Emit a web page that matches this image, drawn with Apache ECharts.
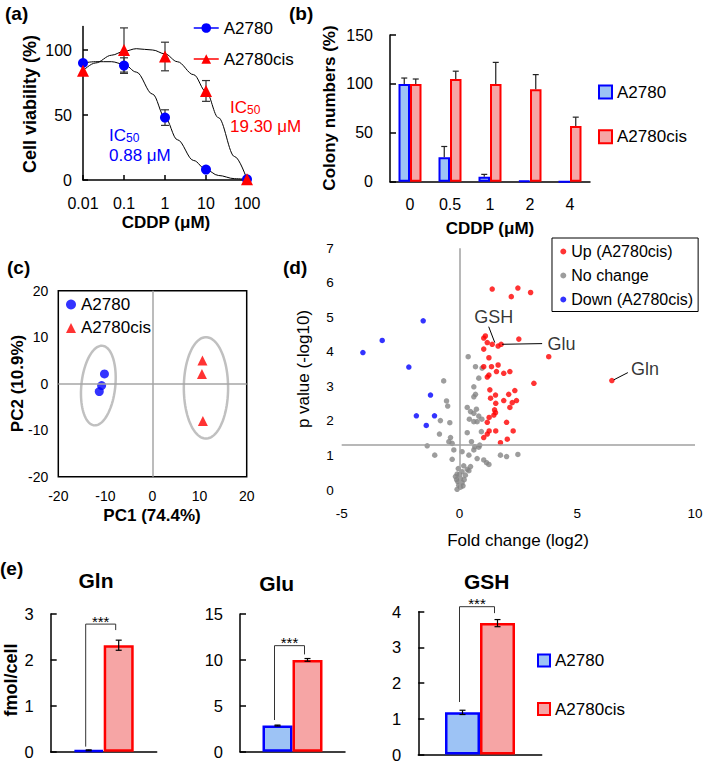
<!DOCTYPE html>
<html><head><meta charset="utf-8">
<script src="https://cdn.jsdelivr.net/npm/echarts@6/dist/echarts.min.js"></script>
<style>html,body{margin:0;padding:0;background:#fff}#c{width:709px;height:763px}</style>
</head><body><div id="c"></div>
<script>
// ---------- (a) cell viability ----------
const doseA = [0.01, 0.1, 1, 10, 100];
const viabA2780 = [90, 88, 48, 8, 0.5];
const viabA2780Err = [0, 6, 6, 0, 0];
const viabCis = [84, 100, 95, 68.5, 0.5];
const viabCisErr = [0, 17, 11, 8, 0];
const fitDose = [0.01, 0.02, 0.05, 0.1, 0.2, 0.5, 1, 2, 5, 10, 20, 50, 100];
const fitA2780 = [90, 91, 91, 89, 83, 66, 48, 31, 15, 8, 3.5, 1, 0.5];
const fitCis = [84, 90, 96, 99, 101, 100, 97, 91, 81, 68, 48, 18, 0.5];
const yTicksA = [0, 50, 100];

// ---------- (b) colony numbers ----------
const doseB = ['0', '0.5', '1', '2', '4'];
const colA2780 = [100, 25, 5, 0.7, 0];
const colA2780Err = [6, 11, 2.5, 0, 0];
const colCis = [100, 105, 100, 94.5, 57];
const colCisErr = [5, 8, 22, 15, 9];

// ---------- (c) PCA ----------
const pcaA2780 = [[-10.2, 2.1], [-10.8, -0.4], [-11.3, -1.7]];
const pcaCis = [[10.6, 5.0], [10.5, 2.1], [10.7, -8.0]];
// centre x, centre y, radius x, radius y, tilt (deg)
const pcaEllipses = [[-11.5, -0.4, 3.6, 8.6, 6], [11.35, -0.9, 4.7, 10.9, 0]];

// ---------- (d) volcano ----------
const volUp = [
  [1.39,5.82],[2.48,5.85],[2.2,5.60],[3.02,5.72],
  [1.10,4.46],[1.03,4.40],[1.18,4.27],[1.39,4.22],[1.64,4.17],[1.77,4.22],[2.52,4.37],[1.03,4.08],[1.25,3.83],[3.79,3.86],[6.47,3.17],
  [1.03,3.57],[1.36,3.57],[1.64,3.62],[1.25,3.33],[1.18,3.27],[1.57,3.43],[1.88,3.38],[2.14,3.43],[3.16,3.09],
  [1.29,2.90],[1.53,2.75],[1.32,2.66],[2.09,2.77],[2.35,2.88],[1.88,2.59],[2.42,2.59],[2.24,2.53],[1.54,2.51],[2.14,2.39],
  [1.49,2.32],[1.53,2.24],[1.46,2.17],[1.26,2.10],[1.18,1.96],[2.0,1.96],[2.28,1.71],[1.54,1.71],[1.26,1.71],[1.18,1.62],
  [1.03,1.52],[2.03,1.47],[1.74,1.37]
];
const volNoChange = [
  [0.37,3.86],[0.68,3.57],[0.96,3.53],[-0.67,3.16],[0.82,3.24],[0.61,2.99],[0.68,2.77],[0.61,2.70],[-0.55,2.58],[-0.50,2.43],
  [0.33,2.39],[0.47,2.27],[0.72,2.34],[0.61,2.22],[0.82,2.14],[0.95,2.05],[0.42,2.05],[-0.81,2.01],[-0.41,1.95],[0.61,1.98],
  [0.75,1.98],[0.93,1.69],[0.33,1.66],[-0.85,1.62],[-0.38,1.52],[-0.45,1.40],[-0.31,1.35],[0.51,1.40],[0.61,1.16],[0.82,1.24],
  [0.86,1.30],[0.65,1.25],[-1.37,1.28],[-0.24,1.16],[0.11,1.11],[1.74,1.01],[2.0,0.97],[2.48,1.03],[-1.05,1.01],[-0.31,0.89],
  [0.40,1.01],[0.75,0.91],[1.03,0.87],[1.15,0.79],[1.25,0.74],[0.18,0.70],[0.33,0.60],[0.47,0.68],[0.40,0.56],[0.11,0.53],
  [-0.1,0.46],[0.25,0.43],[-0.17,0.39],[0.04,0.34],[-0.07,0.24],[0.11,0.21],[-0.03,0.14],[0.04,0.08],[-0.1,0.02],
  [-0.05,0.62],[0.2,0.3],[0.15,0.12],[-0.12,0.3],[0.0,0.45]
];
const volDown = [[-1.54,4.90],[-3.28,4.33],[-4.1,3.98],[-2.15,3.56],[-1.23,2.75],[-1.83,2.15],[-1.06,2.15],[-1.41,1.87]];
const pThreshold = 1.3;
const annotNames = ['GSH', 'Glu', 'Gln'];

// ---------- (e) metabolites ----------
const metabolites = ['Gln', 'Glu', 'GSH'];
const metA2780 = [0.03, 2.85, 1.18];
const metA2780Err = [0.01, 0.05, 0.06];
const metCis = [2.32, 10.0, 3.68];
const metCisErr = [0.11, 0.15, 0.1];
const metAxisMax = [3, 15, 4];
const metAxisStep = [1, 5, 1];

// ================= drawing =================
const FONT = '"Liberation Sans", Arial, Helvetica, sans-serif';
const BLUE = '#0000ff', RED = '#ff0000', BLUEF = '#9dc3f5', REDF = '#f6a5a5', GRAY = '#858585';

function T(text, x, y, o) {
  o = o || {};
  return {type: 'text', x: x, y: y, rotation: o.rot || 0, silent: true, z: 100,
    style: {text: text, fill: o.color || '#000',
      font: (o.weight || 'normal') + ' ' + (o.size || 17) + 'px ' + FONT,
      align: o.align || 'center', verticalAlign: 'middle', rich: o.rich}};
}
function errBar(offset, cap, upOnly, color) {
  return function (params, api) {
    const x = api.value(0), v = api.value(1), e = api.value(2);
    if (!e) return null;
    const t = api.coord([x, v + e]), b = api.coord([x, upOnly ? v : v - e]);
    const cx = t[0] + offset;
    const st = {stroke: color || '#222', lineWidth: 1.2};
    const ch = [
      {type: 'line', shape: {x1: cx, y1: t[1], x2: cx, y2: b[1]}, style: st},
      {type: 'line', shape: {x1: cx - cap, y1: t[1], x2: cx + cap, y2: t[1]}, style: st}
    ];
    if (!upOnly) ch.push({type: 'line', shape: {x1: cx - cap, y1: b[1], x2: cx + cap, y2: b[1]}, style: st});
    return {type: 'group', children: ch};
  };
}
function ellipseRender(params, api) {
  const c = api.coord([api.value(0), api.value(1)]);
  const rx = api.size([api.value(2), 0])[0], ry = api.size([0, api.value(3)])[1];
  const a = api.value(4) * Math.PI / 180, pts = [];
  for (let k = 0; k < 90; k++) {
    const t = k / 90 * 2 * Math.PI, ex = rx * Math.cos(t), ey = ry * Math.sin(t);
    pts.push([c[0] + ex * Math.cos(a) - ey * Math.sin(a), c[1] + ex * Math.sin(a) + ey * Math.cos(a)]);
  }
  return {type: 'polygon', shape: {points: pts}, style: {fill: 'none', stroke: '#c0c0c0', lineWidth: 2.5}};
}
function bracketRender(bw) {
  return function (params, api) {
    const top = api.coord([0, api.value(2)]);
    const yl = api.coord([0, api.value(1)])[1], yr = api.coord([0, api.value(3)])[1];
    const xl = top[0] - bw / 2 - 3, xr = top[0] + bw / 2 - 3;
    return {type: 'group', children: [
      {type: 'polyline', shape: {points: [[xl, yl], [xl, top[1]], [xr, top[1]], [xr, yr]]}, style: {fill: 'none', stroke: '#333', lineWidth: 1}},
      {type: 'text', x: (xl + xr) / 2, y: top[1] - 3, style: {text: '***', font: 'normal 15px ' + FONT, fill: '#000', align: 'center', verticalAlign: 'middle'}}
    ]};
  };
}
// bracket values [cat, leftBottom, top, rightBottom] in data units
const brackets = [[0, 0.11, 2.78, 2.65], [0, 3.45, 11.55, 10.6], [0, 1.47, 4.14, 3.96]];
const metBarW = [30, 30, 35];

const axisLineBlk = {show: true, lineStyle: {color: '#000', width: 1.5}};
const lbl = (size, margin) => ({fontSize: size, color: '#000', fontFamily: FONT, margin: margin});

const grids = [
  {left: 83, top: 26.6, width: 164, height: 153.4},
  {left: 390, top: 35, width: 200, height: 146.7},
  {left: 58.3, top: 290.7, width: 188.4, height: 186, show: true, borderColor: '#000', borderWidth: 1.5},
  {left: 341.7, top: 248.3, width: 353.3, height: 241.7},
  {left: 50.7, top: 614, width: 106, height: 137.7},
  {left: 240, top: 614, width: 105, height: 137.7},
  {left: 418.3, top: 611.7, width: 123.4, height: 145}
];
const xAxes = [
  {type: 'log', gridIndex: 0, min: 0.01, max: 100, logBase: 10, axisLine: axisLineBlk,
   axisTick: {inside: true, length: 5, lineStyle: {color: '#000', width: 1.5}},
   axisLabel: Object.assign(lbl(16, 15), {formatter: v => String(+(+v).toPrecision(3))}), splitLine: {show: false}},
  {type: 'category', gridIndex: 1, data: doseB, axisLine: axisLineBlk, axisTick: {show: false}, axisLabel: lbl(16, 15)},
  {type: 'value', gridIndex: 2, min: -20, max: 20, interval: 10, axisLine: {show: false}, axisTick: {show: false}, splitLine: {show: false}, axisLabel: lbl(14, 12)},
  {type: 'value', gridIndex: 3, min: -5, max: 10, interval: 5, axisLine: {show: false}, axisTick: {show: false}, splitLine: {show: false}, axisLabel: lbl(13.5, 16)}
];
const yAxes = [
  {type: 'value', gridIndex: 0, min: 0, max: 118, axisLine: axisLineBlk,
   axisTick: {show: true, inside: true, length: 5, customValues: yTicksA, lineStyle: {color: '#000', width: 1.5}},
   axisLabel: Object.assign(lbl(16, 11), {customValues: yTicksA}), splitLine: {show: false}},
  {type: 'value', gridIndex: 1, min: 0, max: 150, interval: 50, axisLine: axisLineBlk,
   axisTick: {show: true, inside: true, length: 6, lineStyle: {color: '#000', width: 1.5}}, axisLabel: lbl(16, 17), splitLine: {show: false}},
  {type: 'value', gridIndex: 2, min: -20, max: 20, interval: 10, axisLine: {show: false}, axisTick: {show: false}, splitLine: {show: false}, axisLabel: lbl(14, 10)},
  {type: 'value', gridIndex: 3, min: 0, max: 7, interval: 1, axisLine: {show: false}, axisTick: {show: false}, splitLine: {show: false}, axisLabel: lbl(13.5, 8)}
];
for (let k = 0; k < 3; k++) {
  xAxes.push({type: 'category', gridIndex: 4 + k, data: [metabolites[k]], axisLine: axisLineBlk, axisTick: {show: false}, axisLabel: {show: false}});
  yAxes.push({type: 'value', gridIndex: 4 + k, min: 0, max: metAxisMax[k], interval: metAxisStep[k], axisLine: axisLineBlk,
    axisTick: {show: true, inside: true, length: 6, lineStyle: {color: '#000', width: 1.5}}, axisLabel: lbl(16.5, 17), splitLine: {show: false}});
}

const series = [
  // (a)
  {type: 'line', name: 'fitA', xAxisIndex: 0, yAxisIndex: 0, data: fitDose.map((d, i) => [d, fitA2780[i]]), smooth: 0.35, smoothMonotone: 'x', symbol: 'none', lineStyle: {color: '#000', width: 1}, z: 2, clip: false},
  {type: 'line', name: 'fitC', xAxisIndex: 0, yAxisIndex: 0, data: fitDose.map((d, i) => [d, fitCis[i]]), smooth: 0.35, smoothMonotone: 'x', symbol: 'none', lineStyle: {color: '#000', width: 1}, z: 2, clip: false},
  {type: 'custom', name: 'errA', xAxisIndex: 0, yAxisIndex: 0, renderItem: errBar(0, 4, false, '#333'), data: doseA.map((d, i) => [d, viabA2780[i], viabA2780Err[i]]), z: 3},
  {type: 'custom', name: 'errC', xAxisIndex: 0, yAxisIndex: 0, renderItem: errBar(0, 4, false, '#333'), data: doseA.map((d, i) => [d, viabCis[i], viabCisErr[i]]), z: 3},
  {type: 'line', name: 'a_A2780', xAxisIndex: 0, yAxisIndex: 0, data: doseA.map((d, i) => [d, viabA2780[i]]), symbol: 'circle', symbolSize: 10, itemStyle: {color: BLUE}, lineStyle: {opacity: 0, color: BLUE}, z: 5, clip: false},
  {type: 'line', name: 'a_A2780cis', xAxisIndex: 0, yAxisIndex: 0, data: doseA.map((d, i) => [d, viabCis[i]]), symbol: 'triangle', symbolSize: 12, itemStyle: {color: RED}, lineStyle: {opacity: 0, color: RED}, z: 5, clip: false},
  // (b)
  {type: 'bar', name: 'b_A2780', xAxisIndex: 1, yAxisIndex: 1, data: colA2780, barWidth: 11.5, barGap: '0%', itemStyle: {color: BLUEF, borderColor: BLUE, borderWidth: 2}},
  {type: 'bar', name: 'b_A2780cis', xAxisIndex: 1, yAxisIndex: 1, data: colCis, barWidth: 11.5, barGap: '0%', itemStyle: {color: REDF, borderColor: RED, borderWidth: 2}},
  {type: 'custom', name: 'errB1', xAxisIndex: 1, yAxisIndex: 1, renderItem: errBar(-5.75, 3, true), data: doseB.map((d, i) => [i, colA2780[i], colA2780Err[i]]), z: 4},
  {type: 'custom', name: 'errB2', xAxisIndex: 1, yAxisIndex: 1, renderItem: errBar(5.75, 3, true), data: doseB.map((d, i) => [i, colCis[i], colCisErr[i]]), z: 4},
  // (c)
  {type: 'custom', name: 'ell', xAxisIndex: 2, yAxisIndex: 2, renderItem: ellipseRender, data: pcaEllipses, z: 2},
  {type: 'scatter', name: 'c_A2780', xAxisIndex: 2, yAxisIndex: 2, data: pcaA2780, symbol: 'circle', symbolSize: 9, itemStyle: {color: BLUE}, z: 4,
   markLine: {silent: true, symbol: ['none', 'none'], label: {show: false}, lineStyle: {color: '#a6a6a6', width: 1.5, type: 'solid'}, data: [{xAxis: 0}, {yAxis: 0}]}},
  {type: 'scatter', name: 'c_A2780cis', xAxisIndex: 2, yAxisIndex: 2, data: pcaCis, symbol: 'triangle', symbolSize: 10, itemStyle: {color: RED}, z: 4},
  // (d)
  {type: 'scatter', name: 'No change', xAxisIndex: 3, yAxisIndex: 3, data: volNoChange, symbolSize: 5.5, itemStyle: {color: GRAY}, z: 3,
   markLine: {silent: true, symbol: ['none', 'none'], label: {show: false}, lineStyle: {color: '#a0a0a0', width: 1.5, type: 'solid'}, data: [{xAxis: 0}, {yAxis: pThreshold}]}},
  {type: 'scatter', name: 'Up (A2780cis)', xAxisIndex: 3, yAxisIndex: 3, data: volUp, symbolSize: 5.5, itemStyle: {color: RED}, z: 4,
   markLine: {silent: true, symbol: ['none', 'none'], label: {show: false}, lineStyle: {color: '#000', width: 1, type: 'solid'},
     data: [[{coord: [1.5, 4.27]}, {coord: [1.24, 4.73]}], [{coord: [1.81, 4.22]}, {coord: [3.51, 4.24]}], [{coord: [6.55, 3.19]}, {coord: [7.15, 3.40]}]]}},
  {type: 'scatter', name: 'Down (A2780cis)', xAxisIndex: 3, yAxisIndex: 3, data: volDown, symbolSize: 5.5, itemStyle: {color: BLUE}, z: 4},
  {type: 'scatter', name: 'annot', xAxisIndex: 3, yAxisIndex: 3, symbolSize: 1, itemStyle: {color: 'transparent'}, z: 6, silent: true,
   label: {show: true, formatter: '{b}', fontSize: 18, color: '#000', fontFamily: FONT},
   data: [
     {name: annotNames[0], value: [1.46, 5.02], label: {position: 'inside'}},
     {name: annotNames[1], value: [3.72, 4.23], label: {position: 'right', distance: 0}},
     {name: annotNames[2], value: [7.26, 3.51], label: {position: 'right', distance: 0}}
   ]}
];
for (let k = 0; k < 3; k++) {
  const bw = metBarW[k];
  series.push(
    {type: 'bar', name: 'e_A2780', xAxisIndex: 4 + k, yAxisIndex: 4 + k, data: [metA2780[k]], barWidth: bw, barGap: '0%', itemStyle: {color: BLUEF, borderColor: BLUE, borderWidth: 2.5}},
    {type: 'bar', name: 'e_A2780cis', xAxisIndex: 4 + k, yAxisIndex: 4 + k, data: [metCis[k]], barWidth: bw, barGap: '0%', itemStyle: {color: REDF, borderColor: RED, borderWidth: 2.5}},
    {type: 'custom', name: 'errE1_' + k, xAxisIndex: 4 + k, yAxisIndex: 4 + k, renderItem: errBar(-bw / 2, 3, false, '#000'), data: [[0, metA2780[k], metA2780Err[k]]], z: 4},
    {type: 'custom', name: 'errE2_' + k, xAxisIndex: 4 + k, yAxisIndex: 4 + k, renderItem: errBar(bw / 2, 3, false, '#000'), data: [[0, metCis[k], metCisErr[k]]], z: 4},
    {type: 'custom', name: 'br_' + k, xAxisIndex: 4 + k, yAxisIndex: 4 + k, renderItem: bracketRender(bw), data: [brackets[k]], z: 5, clip: false}
  );
}

const legTxt = {fontSize: 17, color: '#000', fontFamily: FONT};
const strip = n => n.slice(2);
const legends = [
  {data: [{name: 'a_A2780', lineStyle: {opacity: 1, color: BLUE, width: 1.5}}, {name: 'a_A2780cis', lineStyle: {opacity: 1, color: RED, width: 1.5}}],
   formatter: strip, orient: 'vertical', left: 193, top: 19.5, itemWidth: 25, itemHeight: 12, itemGap: 14, padding: 0, textStyle: legTxt, selectedMode: false},
  {data: ['b_A2780', 'b_A2780cis'], formatter: strip, orient: 'vertical', left: 598, top: 83.5, itemWidth: 13, itemHeight: 13, itemGap: 27.7, padding: 0, icon: 'rect', textStyle: legTxt, selectedMode: false},
  {data: ['c_A2780', 'c_A2780cis'], formatter: strip, orient: 'vertical', left: 66, top: 296, itemWidth: 10, itemHeight: 10, itemGap: 6.4, padding: 0, textStyle: legTxt, selectedMode: false},
  {data: ['Up (A2780cis)', 'No change', 'Down (A2780cis)'], orient: 'vertical', left: 552, top: 238, padding: [5.5, 5, 4, 8.3],
   borderColor: '#000', borderWidth: 1, itemWidth: 6, itemHeight: 6, itemGap: 8, icon: 'circle', textStyle: {fontSize: 16, color: '#000', fontFamily: FONT}, selectedMode: false},
  {data: ['e_A2780', 'e_A2780cis'], formatter: strip, orient: 'vertical', left: 537, top: 652, itemWidth: 12, itemHeight: 12, itemGap: 31.5, padding: 0, icon: 'rect', textStyle: legTxt, selectedMode: false}
];

const subRich = c => ({s: {fontSize: 12, fill: c, fontFamily: FONT, verticalAlign: 'bottom'}});
const graphic = [
  T('(a)', 5, 13, {weight: 'bold', size: 19, align: 'left'}),
  T('(b)', 289, 13, {weight: 'bold', size: 19, align: 'left'}),
  T('(c)', 7, 267, {weight: 'bold', size: 19, align: 'left'}),
  T('(d)', 283, 267, {weight: 'bold', size: 19, align: 'left'}),
  T('(e)', 0, 568, {weight: 'bold', size: 19, align: 'left'}),
  T('Cell viability (%)', 30, 104, {weight: 'bold', size: 18, rot: Math.PI / 2}),
  T('CDDP (μM)', 166, 222.5, {weight: 'bold', size: 17}),
  T('Colony numbers (%)', 329.5, 108, {weight: 'bold', size: 17, rot: Math.PI / 2}),
  T('CDDP (μM)', 490, 228, {weight: 'bold', size: 17}),
  T('PC2 (10.9%)', 17, 383.5, {weight: 'bold', size: 17, rot: Math.PI / 2}),
  T('PC1 (74.4%)', 152, 515, {weight: 'bold', size: 17}),
  T('p value (-log10)', 303, 369, {size: 17, rot: Math.PI / 2}),
  T('Fold change (log2)', 518, 540, {size: 17}),
  T('fmol/cell', 11, 680, {weight: 'bold', size: 18, rot: Math.PI / 2}),
  T('Gln', 96, 580, {weight: 'bold', size: 21}),
  T('Glu', 276.7, 583.3, {weight: 'bold', size: 21}),
  T('GSH', 486.7, 581.7, {weight: 'bold', size: 21}),
  T('IC{s|50}', 109, 135, {size: 17, color: BLUE, align: 'left', rich: subRich(BLUE)}),
  T('0.88 μM', 109, 155, {size: 17, color: BLUE, align: 'left'}),
  T('IC{s|50}', 230, 107, {size: 17, color: RED, align: 'left', rich: subRich(RED)}),
  T('19.30 μM', 230, 126, {size: 17, color: RED, align: 'left'})
];

const chart = echarts.init(document.getElementById('c'), null, {renderer: 'svg'});
chart.setOption({
  animation: false, backgroundColor: '#fff',
  textStyle: {fontFamily: FONT},
  grid: grids, xAxis: xAxes, yAxis: yAxes, series: series, legend: legends, graphic: graphic
});
</script>
</body></html>
